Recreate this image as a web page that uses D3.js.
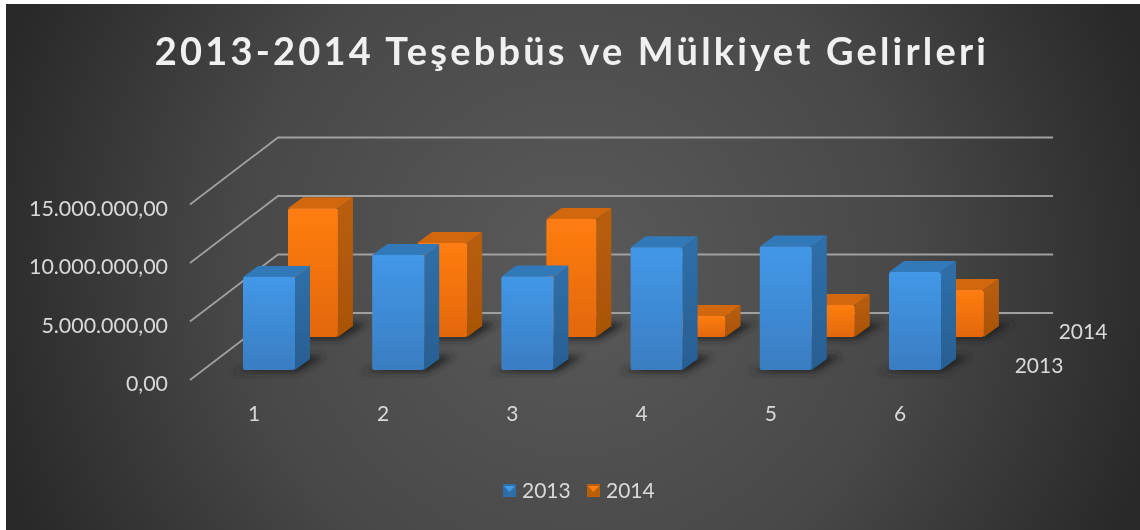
<!DOCTYPE html>
<html>
<head>
<meta charset="utf-8">
<script src="https://d3js.org/d3.v7.min.js"></script>
<style>
  html, body { margin: 0; padding: 0; background: #fff; overflow: hidden; }
  svg { display: block; }
  text { font-family: Lato, "Open Sans", sans-serif; fill: #d9d9d9; }
</style>
</head>
<body>
<div id="chart"></div>
<script>
const titleText = '2013-2014 Teşebbüs ve Mülkiyet Gelirleri';
const categories = ['1', '2', '3', '4', '5', '6'];
const series = ['2013', '2014'];
const values2013 = [7950000, 9830000, 8000000, 10500000, 10550000, 8380000];
const values2014 = [11000000, 8030000, 10080000, 1800000, 2730000, 4020000];
const yTicks = [0, 5000000, 10000000, 15000000];

const width = 1140;
const height = 530;

const blue = { front: ['#4298e8', '#3a7dc2'], side: ['#2f6fa9', '#285f92'], top: '#3079ba' };
const orange = { front: ['#ff7d12', '#e2680b'], side: ['#b95e09', '#a85406'], top: '#d2670b' };
const colors = { '2013': blue, '2014': orange };

const locale = d3.formatLocale({ decimal: ',', thousands: '.', grouping: [3], currency: ['', ''] });
const fmt = locale.format(',.2f');

const svg = d3.select('#chart').append('svg')
    .attr('width', width)
    .attr('height', height);

const defs = svg.append('defs');

const bg = defs.append('radialGradient')
    .attr('id', 'bg')
    .attr('gradientUnits', 'userSpaceOnUse')
    .attr('cx', 573).attr('cy', 267).attr('r', 610);
bg.append('stop').attr('offset', '0').attr('stop-color', '#5a5a5a');
bg.append('stop').attr('offset', '0.55').attr('stop-color', '#484848');
bg.append('stop').attr('offset', '1').attr('stop-color', '#282828');

defs.append('filter').attr('id', 'shadow')
    .attr('x', '-30%').attr('y', '-60%').attr('width', '160%').attr('height', '220%')
    .append('feGaussianBlur').attr('stdDeviation', 3.5);
defs.append('filter').attr('id', 'soft')
    .append('feGaussianBlur').attr('stdDeviation', 0.6);
defs.append('filter').attr('id', 'softText')
    .append('feGaussianBlur').attr('stdDeviation', 0.35);

series.forEach(s => {
  ['front', 'side'].forEach(face => {
    const g = defs.append('linearGradient')
        .attr('id', `${face}-${s}`)
        .attr('x1', 0).attr('y1', 0).attr('x2', 0).attr('y2', 1);
    g.append('stop').attr('offset', '0').attr('stop-color', colors[s][face][0]);
    g.append('stop').attr('offset', '1').attr('stop-color', colors[s][face][1]);
  });
});

svg.append('rect')
    .attr('x', 6).attr('y', 4)
    .attr('width', width - 6).attr('height', height - 4)
    .attr('fill', 'url(#bg)');

svg.append('text')
    .attr('x', 572)
    .attr('y', 65)
    .attr('text-anchor', 'middle')
    .attr('filter', 'url(#softText)')
    .style('font-size', '38px')
    .style('font-weight', 'bold')
    .style('letter-spacing', '3.2px')
    .style('fill', '#f0f0f0')
    .text(titleText);

// front plane of the value axis
const y = d3.scaleLinear().domain([0, 15000000]).range([370, 194.5]);
const x = d3.scaleBand().domain(categories).range([243, 941]).paddingInner(0.5975);

// position of each series row inside the 3D floor
const rowX = d3.scalePoint().domain(series).range([0, 45]);
const rowY = d3.scalePoint().domain(series).range([0, -33]);
const rowW = d3.scalePoint().domain(series).range([1, 0.96]);

// walls: slanted from the front corner to the back, then along the back
const wall = { frontX: 190, frontDy: 10, backX: 278, backDy: -57, endX: 1053 };
const gridLine = d3.line();

svg.append('g').selectAll('path')
    .data(yTicks)
    .join('path')
    .attr('d', d => gridLine([
      [wall.frontX, y(d) + wall.frontDy],
      [wall.backX, y(d) + wall.backDy],
      [wall.endX, y(d) + wall.backDy]
    ]))
    .attr('fill', 'none')
    .attr('stroke', '#a0a0a0')
    .attr('stroke-width', 1.8)
    .attr('filter', 'url(#softText)');

const depth = { dx: 15, dy: -11 };
const poly = d3.line();

function drawSeries(name, vals) {
  const g = svg.append('g').attr('class', `series-${name}`);
  const c = colors[name];

  const rows = categories.map((cat, i) => {
    const left = x(cat) + rowX(name);
    const w = x.bandwidth() * rowW(name);
    const base = y(0) + rowY(name);
    const top = y(vals[i]) + rowY(name);
    return { left, w, base, top };
  });

  g.selectAll('.foot').data(rows).join('path')
      .attr('class', 'foot')
      .attr('d', d => poly([
        [d.left - 12, d.base + 2],
        [d.left + d.w + 3, d.base + 2],
        [d.left + d.w + 30, d.base - 14],
        [d.left + d.w, d.base - 14]
      ]) + 'Z')
      .attr('fill', '#222')
      .attr('filter', 'url(#shadow)');

  const bars = g.selectAll('.bar').data(rows).join('g')
      .attr('class', 'bar')
      .attr('filter', 'url(#soft)');

  bars.append('path')
      .attr('d', d => poly([
        [d.left + d.w, d.top],
        [d.left + d.w + depth.dx, d.top + depth.dy],
        [d.left + d.w + depth.dx, d.base + depth.dy],
        [d.left + d.w, d.base]
      ]) + 'Z')
      .attr('fill', `url(#side-${name})`);

  bars.append('path')
      .attr('d', d => poly([
        [d.left, d.top],
        [d.left + depth.dx, d.top + depth.dy],
        [d.left + d.w + depth.dx, d.top + depth.dy],
        [d.left + d.w, d.top]
      ]) + 'Z')
      .attr('fill', c.top);

  bars.append('rect')
      .attr('x', d => d.left)
      .attr('y', d => d.top)
      .attr('width', d => d.w)
      .attr('height', d => d.base - d.top)
      .attr('rx', 2)
      .attr('fill', `url(#front-${name})`);
}

drawSeries('2014', values2014);
drawSeries('2013', values2013);

// value axis
const yAxis = d3.axisLeft(y).tickValues(yTicks).tickSize(0).tickPadding(0).tickFormat(fmt);
const yG = svg.append('g').attr('transform', 'translate(168,14)').call(yAxis);
yG.select('.domain').remove();
yG.selectAll('text').style('font-size', '21.4px').style('font-family', 'Lato').attr('filter', 'url(#softText)');

// category axis
const xAxis = d3.axisBottom(x).tickSize(0).tickPadding(0);
const xG = svg.append('g').attr('transform', 'translate(-15,406)').call(xAxis);
xG.select('.domain').remove();
xG.selectAll('text').style('font-size', '21px').style('font-family', 'Lato').attr('filter', 'url(#softText)');

// series axis labels
const seriesLabelX = d3.scalePoint().domain(series).range([1039, 1083]);
const seriesLabelY = d3.scalePoint().domain(series).range([373, 339]);
svg.append('g').selectAll('text')
    .data(series)
    .join('text')
    .attr('x', d => seriesLabelX(d))
    .attr('y', d => seriesLabelY(d))
    .attr('text-anchor', 'middle')
    .attr('filter', 'url(#softText)')
    .style('font-size', '21px')
    .text(d => d);

// legend
const legendX = d3.scalePoint().domain(series).range([503, 587]);
const legend = svg.append('g').selectAll('g')
    .data(series)
    .join('g')
    .attr('transform', d => `translate(${legendX(d)},484)`);

legend.append('rect')
    .attr('width', 13).attr('height', 13)
    .attr('fill', d => colors[d].side[0]);
legend.append('path')
    .attr('d', poly([[1, 2], [12, 2], [6.5, 8]]) + 'Z')
    .attr('fill', d => colors[d].front[0]);
legend.append('text')
    .attr('x', 19)
    .attr('y', 14)
    .attr('filter', 'url(#softText)')
    .style('font-size', '21px')
    .text(d => d);
</script>
</body>
</html>
